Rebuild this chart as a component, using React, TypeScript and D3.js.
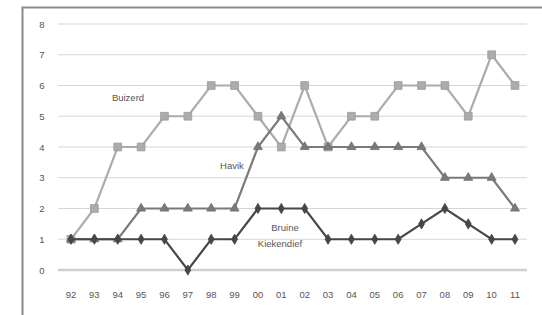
import React, { useEffect, useRef } from 'react';
import * as d3 from 'd3';

const years = ['92', '93', '94', '95', '96', '97', '98', '99', '00', '01', '02', '03', '04', '05', '06', '07', '08', '09', '10', '11'];
const buizerd = [1, 2, 4, 4, 5, 5, 6, 6, 5, 4, 6, 4, 5, 5, 6, 6, 6, 5, 7, 6];
const havik = [1, 1, 1, 2, 2, 2, 2, 2, 4, 5, 4, 4, 4, 4, 4, 4, 3, 3, 3, 2];
const kiekendief = [1, 1, 1, 1, 1, 0, 1, 1, 2, 2, 2, 1, 1, 1, 1, 1.5, 2, 1.5, 1, 1];
const yTicks = [0, 1, 2, 3, 4, 5, 6, 7, 8];

const App: React.FC = () => {
  const ref = useRef<SVGSVGElement>(null);

  useEffect(() => {
    if (!ref.current) return;
    const svg = d3.select(ref.current);
    svg.selectAll('*').remove();

    const left = 58, right = 527, top = 24, bottom = 270;
    const x = d3.scalePoint<string>().domain(years).range([71, 515]);
    const y = d3.scaleLinear().domain([0, 8]).range([bottom, top]);

    // frame
    svg.append('path')
      .attr('d', 'M22.5,315 L22.5,7.5 L542,7.5')
      .attr('fill', 'none')
      .attr('stroke', '#8a8a8a')
      .attr('stroke-width', 2);

    // grid
    svg.append('g').selectAll('line')
      .data(yTicks)
      .enter()
      .append('line')
      .attr('x1', left)
      .attr('x2', right)
      .attr('y1', d => y(d))
      .attr('y2', d => y(d))
      .attr('stroke', d => (d === 0 ? '#cfcfcf' : '#d6d6d6'))
      .attr('stroke-width', d => (d === 0 ? 2.5 : 1.2));

    svg.append('g').selectAll('text')
      .data(yTicks)
      .enter()
      .append('text')
      .attr('x', 42)
      .attr('y', d => y(d) + 3.5)
      .attr('text-anchor', 'middle')
      .style('font-family', 'Liberation Sans, sans-serif')
      .style('font-size', '9.5px')
      .style('fill', '#555')
      .text(d => d);

    svg.append('g').selectAll('text')
      .data(years)
      .enter()
      .append('text')
      .attr('x', d => x(d) as number)
      .attr('y', 298)
      .attr('text-anchor', 'middle')
      .style('font-family', 'Liberation Sans, sans-serif')
      .style('font-size', '9.5px')
      .style('fill', '#555')
      .text(d => d);

    const line = d3.line<number>()
      .x((_, i) => x(years[i]) as number)
      .y(d => y(d));

    const series = [
      { data: buizerd, color: '#acacac', marker: d3.symbolSquare, size: 60 },
      { data: havik, color: '#7a7a7a', marker: d3.symbolTriangle, size: 35 },
      { data: kiekendief, color: '#474747', marker: d3.symbolDiamond, size: 30 },
    ];

    series.forEach(s => {
      svg.append('path')
        .datum(s.data)
        .attr('d', line)
        .attr('fill', 'none')
        .attr('stroke', s.color)
        .attr('stroke-width', 2.2);

      const sym = d3.symbol().type(s.marker).size(s.size);
      svg.append('g').selectAll('path')
        .data(s.data)
        .enter()
        .append('path')
        .attr('d', sym)
        .attr('transform', (d, i) => `translate(${x(years[i])},${y(d)})`)
        .attr('fill', s.color)
        .attr('stroke', d3.color(s.color)?.darker(0.3)?.toString() || s.color)
        .attr('stroke-width', 0.8);
    });

    // series labels
    const labels = [
      { text: 'Buizerd', x: 128, y: 101 },
      { text: 'Havik', x: 232, y: 169 },
      { text: 'Bruine', x: 285, y: 231 },
      { text: 'Kiekendief', x: 280, y: 247 },
    ];
    svg.append('g').selectAll('text')
      .data(labels)
      .enter()
      .append('text')
      .attr('x', d => d.x)
      .attr('y', d => d.y)
      .attr('text-anchor', 'middle')
      .style('font-family', 'Liberation Sans, sans-serif')
      .style('font-size', '9.5px')
      .style('fill', '#555')
      .text(d => d.text);
  }, []);

  return (
    <svg
      ref={ref}
      width={542}
      height={315}
      style={{ position: 'absolute', left: 0, top: 0, background: '#fff' }}
    />
  );
};

export default App;
